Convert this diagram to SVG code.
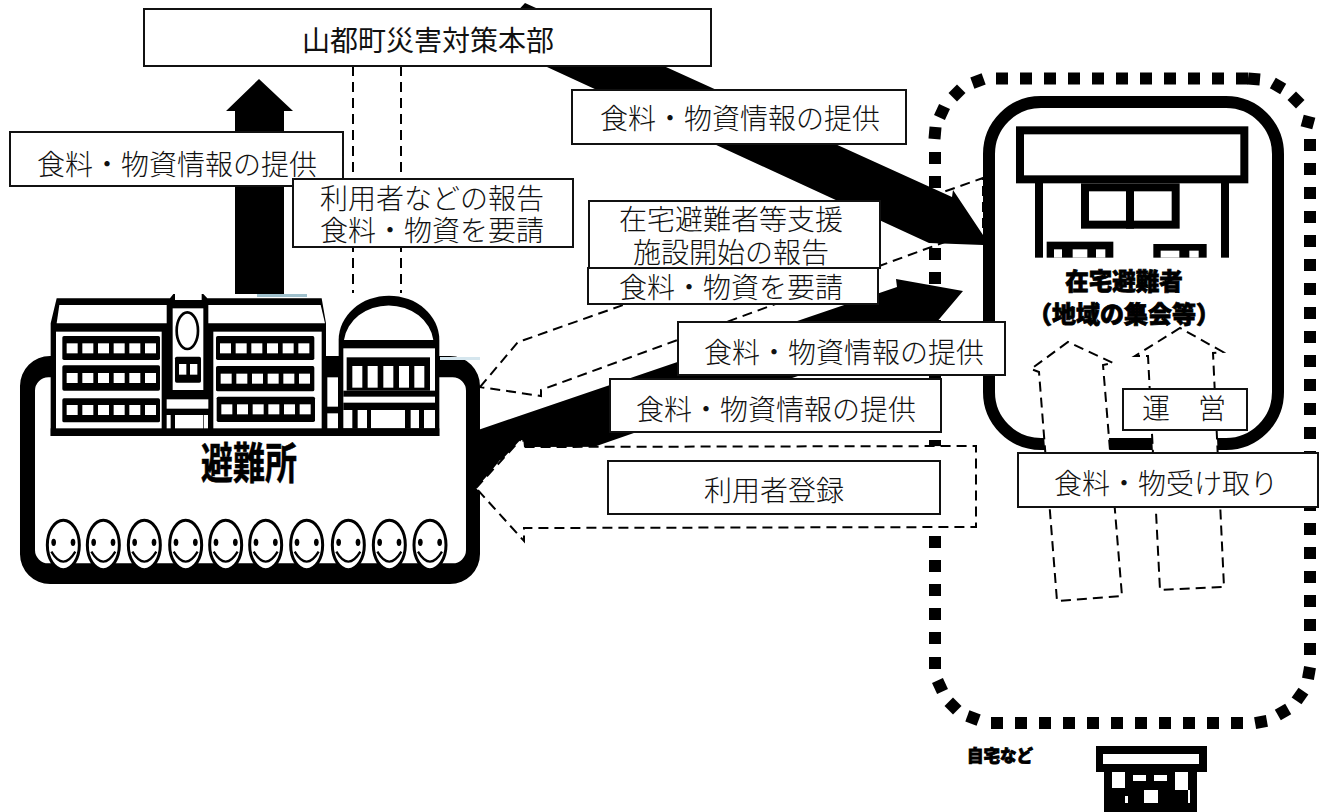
<svg xmlns="http://www.w3.org/2000/svg" xmlns:xlink="http://www.w3.org/1999/xlink" width="1325" height="812" viewBox="0 0 1325 812">
<style>
.box{fill:#fff;stroke:#111;stroke-width:2}
.lb{font-family:"Liberation Serif","Noto Sans CJK JP","Noto Sans CJK SC",sans-serif;font-size:28px;font-weight:300;fill:#111;text-anchor:middle}
.hv{font-family:"Noto Sans CJK JP",sans-serif;font-weight:900;fill:#000;stroke:#000;stroke-width:.8;text-anchor:middle;dominant-baseline:central}
.dash{fill:#fff;stroke:#000;stroke-width:2;stroke-dasharray:10 6}
.dl{fill:none;stroke:#000;stroke-width:2;stroke-dasharray:10 6}
.dots{fill:none;stroke:#000;stroke-width:12;stroke-dasharray:12 12}
.k{fill:#000}.w{fill:#fff}
.face{fill:#fff;stroke:#000;stroke-width:9}
.smile{fill:none;stroke:#000;stroke-width:7}
</style>
<defs>
<rect id="dot" x="-6" y="-6" width="12" height="12" fill="#000"/>
<g id="sq"><rect class="w" x="0" y="0" width="33" height="30"/><rect class="w" x="47" y="0" width="33" height="30"/><rect class="w" x="94" y="0" width="33" height="30"/><rect class="w" x="141" y="0" width="33" height="30"/><rect class="w" x="188" y="0" width="33" height="30"/><rect class="w" x="235" y="0" width="33" height="30"/></g>
<g id="smiley"><ellipse class="face" cx="0" cy="0" rx="48" ry="74"/><ellipse class="k" cx="-29" cy="-8" rx="7" ry="11"/><ellipse class="k" cx="29" cy="-8" rx="7" ry="11"/><path class="smile" d="M-36,20 Q0,80 36,20"/></g>
</defs>
<rect width="1325" height="812" fill="#fff"/>

<g id="zone-home">
<line class="dots" x1="996" y1="78.5" x2="1248" y2="78.5"/>
<line class="dots" x1="1310" y1="139" x2="1310" y2="656"/>
<line class="dots" x1="991" y1="723" x2="1243" y2="723"/>
<line class="dots" x1="935" y1="152" x2="935" y2="645"/>
<use xlink:href="#dot" transform="translate(935,133) rotate(5)"/>
<use xlink:href="#dot" transform="translate(942,112) rotate(25)"/>
<use xlink:href="#dot" transform="translate(957,93) rotate(45)"/>
<use xlink:href="#dot" transform="translate(978,81) rotate(70)"/>
<use xlink:href="#dot" transform="translate(1254,79) rotate(5)"/>
<use xlink:href="#dot" transform="translate(1278,86) rotate(30)"/>
<use xlink:href="#dot" transform="translate(1296,100) rotate(45)"/>
<use xlink:href="#dot" transform="translate(1308,122) rotate(15)"/>
<use xlink:href="#dot" transform="translate(1309,673) rotate(10)"/>
<use xlink:href="#dot" transform="translate(1300,696) rotate(35)"/>
<use xlink:href="#dot" transform="translate(1283,712) rotate(60)"/>
<use xlink:href="#dot" transform="translate(1261,722) rotate(80)"/>
<use xlink:href="#dot" transform="translate(935,663)"/>
<use xlink:href="#dot" transform="translate(940,686) rotate(-25)"/>
<use xlink:href="#dot" transform="translate(953,706) rotate(-45)"/>
<use xlink:href="#dot" transform="translate(973,718) rotate(-70)"/>
<text class="hv" x="1000" y="755" font-size="16.5">自宅など</text>
<g id="house">
<rect class="k" x="1096" y="746" width="111" height="26"/>
<rect class="w" x="1103" y="754" width="96" height="10"/>
<rect class="k" x="1104" y="772" width="93" height="40"/>
<rect class="w" x="1112" y="772" width="13" height="16"/>
<rect class="w" x="1133" y="775" width="13" height="6"/>
<rect class="w" x="1154" y="775" width="13" height="6"/>
<rect class="w" x="1175" y="772" width="13" height="18"/>
<rect class="w" x="1144" y="790" width="14" height="13"/>
<rect class="w" x="1188" y="790" width="2" height="13"/>
<rect class="w" x="1125" y="796" width="3" height="7"/>
</g>
</g>

<g id="facility">
<rect x="989" y="102" width="289" height="342" rx="52" fill="#fff" stroke="#000" stroke-width="12"/>
<g transform="translate(920,60) scale(.33333)">
<rect x="300" y="211" width="673" height="147" fill="#fff" stroke="#000" stroke-width="24"/>
<rect class="k" x="345" y="360" width="24" height="233"/>
<rect class="k" x="903" y="360" width="24" height="233"/>
<rect x="495" y="382" width="272" height="112" fill="#fff" stroke="#000" stroke-width="24"/>
<rect class="k" x="618" y="372" width="24" height="134"/>
<rect class="k" x="380" y="545" width="200" height="48"/>
<rect class="w" x="402" y="568" width="24" height="25"/><rect class="w" x="458" y="568" width="44" height="25"/><rect class="w" x="528" y="568" width="28" height="25"/>
<rect class="k" x="700" y="552" width="160" height="41"/>
<rect class="w" x="722" y="572" width="56" height="21"/><rect class="w" x="808" y="572" width="28" height="21"/>
</g>
<text class="hv" x="1124" y="280" font-size="23.5">在宅避難者</text>
<text class="hv" x="1124" y="312" font-size="24">（地域の集会等）</text>
</g>

<g id="shelter" transform="translate(0,280) scale(.33333)">
<path class="k" fill-rule="evenodd" d="M150,228H1350A90,90 0 0 1 1440,318V822A90,90 0 0 1 1350,912H150A90,90 0 0 1 60,822V318A90,90 0 0 1 150,228ZM145,292A40,40 0 0 0 105,332V810A40,40 0 0 0 145,850H1358A40,40 0 0 0 1398,810V332A40,40 0 0 0 1358,292Z"/>
<polygon class="k" points="152,468 152,130 170,55 510,55 520,42 610,42 622,55 965,55 978,130 978,468"/>
<polygon class="w" points="170,130 178,75 500,75 500,130"/>
<polygon class="w" points="625,130 625,75 962,75 975,130"/>
<rect class="w" x="525" y="42" width="80" height="18"/>
<rect class="w" x="168" y="155" width="317" height="292"/>
<rect class="k" x="187" y="168" width="293" height="72" rx="5"/>
<rect class="k" x="187" y="256" width="293" height="76" rx="5"/>
<rect class="k" x="187" y="355" width="293" height="72" rx="5"/>
<use xlink:href="#sq" transform="translate(200,190)"/>
<use xlink:href="#sq" transform="translate(200,279)"/>
<use xlink:href="#sq" transform="translate(200,375)"/>
<rect class="w" x="518" y="85" width="92" height="245"/>
<ellipse cx="562" cy="152" rx="32" ry="55" fill="#fff" stroke="#000" stroke-width="8"/>
<rect class="k" x="525" y="230" width="78" height="78" rx="5"/>
<rect class="w" x="537" y="252" width="22" height="32"/><rect class="w" x="570" y="252" width="22" height="32"/>
<rect class="k" x="488" y="335" width="150" height="120"/>
<rect class="w" x="500" y="358" width="125" height="28"/>
<rect class="w" x="500" y="405" width="12" height="42"/><rect class="w" x="525" y="405" width="85" height="42"/><rect class="w" x="612" y="405" width="12" height="42"/>
<rect class="w" x="640" y="155" width="325" height="292"/>
<rect class="k" x="648" y="168" width="295" height="72" rx="5"/>
<rect class="k" x="648" y="258" width="295" height="76" rx="5"/>
<rect class="k" x="650" y="350" width="295" height="76" rx="5"/>
<use xlink:href="#sq" transform="translate(660,190)"/>
<use xlink:href="#sq" transform="translate(662,281)"/>
<use xlink:href="#sq" transform="translate(664,373)"/>
<path class="k" d="M978,228H1018V468H978Z"/>
<rect class="w" x="982" y="292" width="32" height="88"/>
<rect class="w" x="982" y="400" width="32" height="46"/>
<path class="k" d="M1016,468V180A150,132 0 0 1 1318,180V468Z"/>
<path class="w" d="M1032,180A135,118 0 0 1 1300,180Z"/>
<rect class="w" x="1030" y="205" width="275" height="240"/>
<rect class="k" x="1040" y="232" width="250" height="100"/>
<rect class="w" x="1057" y="258" width="30" height="65"/><rect class="w" x="1103" y="258" width="30" height="65"/><rect class="w" x="1150" y="258" width="30" height="65"/><rect class="w" x="1197" y="258" width="30" height="65"/><rect class="w" x="1243" y="258" width="30" height="65"/>
<rect class="k" x="1030" y="332" width="275" height="18"/>
<rect class="k" x="1030" y="368" width="275" height="22"/>
<rect class="k" x="1057" y="390" width="16" height="56"/><rect class="k" x="1101" y="390" width="12" height="56"/><rect class="k" x="1215" y="390" width="17" height="56"/><rect class="k" x="1257" y="390" width="15" height="56"/>
<rect class="k" x="152" y="445" width="1166" height="23"/>
<use xlink:href="#smiley" transform="translate(190,795)"/>
<use xlink:href="#smiley" transform="translate(310,795)"/>
<use xlink:href="#smiley" transform="translate(433,795)"/>
<use xlink:href="#smiley" transform="translate(557,795)"/>
<use xlink:href="#smiley" transform="translate(677,795)"/>
<use xlink:href="#smiley" transform="translate(797,795)"/>
<use xlink:href="#smiley" transform="translate(920,795)"/>
<use xlink:href="#smiley" transform="translate(1045,795)"/>
<use xlink:href="#smiley" transform="translate(1168,795)"/>
<use xlink:href="#smiley" transform="translate(1290,795)"/>
</g>
<text class="hv" transform="translate(249,460) scale(1,1.35)" font-size="32" style="font-weight:700;stroke-width:.4">避難所</text>
<rect x="440" y="357" width="40" height="3" fill="#d5e6ee"/>
<rect x="257" y="294" width="50" height="3" fill="#9fc0cc"/>

<g id="connectors">
<polygon class="k" points="235,294 235,111 226,111 259,79 293,111 284,111 284,294"/>
<line class="dl" x1="353" y1="66" x2="353" y2="293"/>
<line class="dl" x1="401" y1="66" x2="401" y2="293"/>
<polygon class="dash" points="480,387 518,342 524,340 983,178 983,228 541,390 541,396"/>
<polygon class="k" points="500,30 525,3 952,197 953,190 985,238 983,245 929,243 547,67"/>
<polygon class="k" points="478,430 897,287 896,279 963,291 930,330 585,450 500,460 476,490"/>
<polygon class="dash" points="476,488 523,437 524,447 976,446 976,527 524,528 524,541"/>
<polygon class="dash" points="1068,342 1031,369 1039,372 1057,601 1122,596 1103,365 1113,363"/>
<polygon class="dash" points="1180,328 1135,356 1148,356 1160,590 1224,587 1213,353 1223,352"/>
</g>

<g id="labels">
<g id="n-hq"><rect class="box" x="144" y="9" width="567" height="57"/><text class="lb" x="428" y="51" style="font-weight:400">山都町災害対策本部</text></g>
<g id="n-l1"><rect class="box" x="10" y="132" width="333" height="54"/><text class="lb" x="177" y="175">食料・物資情報の提供</text></g>
<g id="n-l2"><rect class="box" x="293" y="179" width="280" height="68"/><text class="lb" x="432" y="209">利用者などの報告</text><text class="lb" x="432" y="241">食料・物資を要請</text></g>
<g id="n-l3"><rect class="box" x="572" y="90" width="334" height="54"/><text class="lb" x="740" y="129">食料・物資情報の提供</text></g>
<g id="n-l4"><rect class="box" x="589" y="201" width="291" height="67"/><text class="lb" x="731" y="230">在宅避難者等支援</text><text class="lb" x="731" y="263">施設開始の報告</text></g>
<g id="n-l5"><rect class="box" x="588" y="268" width="290" height="36"/><text class="lb" x="731" y="298">食料・物資を要請</text></g>
<g id="n-l6"><rect class="box" x="678" y="322" width="327" height="53"/><text class="lb" x="844" y="363">食料・物資情報の提供</text></g>
<g id="n-l7"><rect class="box" x="610" y="379" width="331" height="53"/><text class="lb" x="776" y="420">食料・物資情報の提供</text></g>
<g id="n-l8"><rect class="box" x="608" y="461" width="332" height="53"/><text class="lb" x="774" y="501">利用者登録</text></g>
<g id="n-l9"><rect class="box" x="1123" y="389" width="124" height="41"/><text class="lb" x="1184" y="419">運　営</text></g>
<g id="n-l10"><rect class="box" x="1018" y="453" width="300" height="54"/><text class="lb" x="1166" y="494">食料・物受け取り</text></g>
</g>
</svg>
